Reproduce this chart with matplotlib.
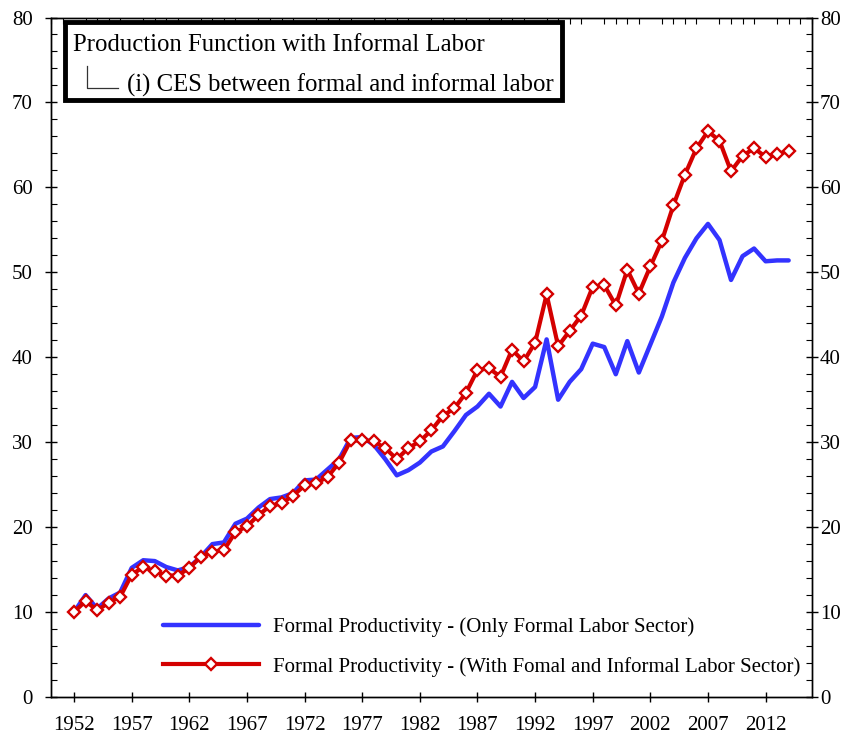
import numpy as np
import matplotlib.pyplot as plt
from matplotlib.ticker import MultipleLocator
from matplotlib.patches import Rectangle

# anos e series
years = np.arange(1952, 2015)

only_formal = [10.0, 12.0, 10.4, 11.6, 12.3, 15.2, 16.1, 16.0, 15.3, 14.9,
               15.3, 16.5, 18.0, 18.2, 20.4, 21.0, 22.3, 23.3, 23.5, 24.0,
               25.5, 25.6, 26.8, 28.0, 30.5, 30.6, 29.7, 28.0, 26.1, 26.7,
               27.6, 28.9, 29.5, 31.3, 33.2, 34.2, 35.7, 34.2, 37.1, 35.2,
               36.5, 42.1, 35.0, 37.1, 38.6, 41.6, 41.2, 38.0, 41.9, 38.2,
               41.5, 44.8, 48.8, 51.7, 54.0, 55.7, 53.8, 49.1, 51.9, 52.8,
               51.3, 51.4, 51.4]

with_informal = [10.0, 11.3, 10.2, 11.1, 11.8, 14.4, 15.3, 14.8, 14.3, 14.3,
                 15.2, 16.5, 17.1, 17.3, 19.4, 20.1, 21.4, 22.5, 22.8, 23.7,
                 24.9, 25.2, 25.9, 27.6, 30.2, 30.2, 30.1, 29.3, 28.0, 29.3,
                 30.1, 31.4, 33.1, 34.0, 35.8, 38.5, 38.7, 37.7, 40.9, 39.5,
                 41.7, 47.4, 41.3, 43.1, 44.9, 48.3, 48.5, 46.1, 50.3, 47.5,
                 50.7, 53.7, 57.9, 61.5, 64.6, 66.6, 65.5, 61.9, 63.7, 64.6,
                 63.6, 63.9, 64.3]

label_blue = 'Formal Productivity - (Only Formal Labor Sector)'
label_red = 'Formal Productivity - (With Fomal and Informal Labor Sector)'
title_main = 'Production Function with Informal Labor'
title_sub = '(i) CES between formal and informal labor'

plt.rcParams['font.family'] = ['Liberation Serif', 'DejaVu Sans']

fig = plt.figure(figsize=(8.52, 7.48), dpi=100)
ax = fig.add_axes([0.0599, 0.0682, 0.8928, 0.9084])

ax.plot(years, only_formal, color='#3333ff', lw=3.2, label=label_blue,
        solid_capstyle='round', zorder=3)
ax.plot(years, with_informal, color='#d40000', lw=3.0, marker='D', ms=5.8,
        mfc='white', mec='#d40000', mew=1.7, label=label_red, zorder=4)

ax.set_xlim(1950, 2016)
ax.set_ylim(0, 80)

ax.set_xticks(np.arange(1952, 2015, 5))
ax.yaxis.set_major_locator(MultipleLocator(10))
ax.yaxis.set_minor_locator(MultipleLocator(2))
ax.xaxis.set_minor_locator(MultipleLocator(1))

ax.tick_params(axis='x', which='major', direction='inout', length=7, width=1,
               labelsize=15, pad=10, top=False)
ax.tick_params(axis='x', which='minor', direction='in', length=4, width=0.8,
               bottom=False, top=True)
ax.tick_params(axis='y', which='major', direction='inout', length=8, width=1,
               labelsize=15, left=True, right=False, pad=9)
ax.tick_params(axis='y', which='minor', direction='in', length=4, width=0.8,
               left=True, right=False)

# eixo direito com os mesmos valores
ax2 = ax.twinx()
ax2.set_ylim(0, 80)
ax2.yaxis.set_major_locator(MultipleLocator(10))
ax2.yaxis.set_minor_locator(MultipleLocator(2))
ax2.tick_params(axis='y', which='major', direction='inout', length=8, width=1,
                labelsize=15, pad=2)
ax2.tick_params(axis='y', which='minor', direction='in', length=4, width=0.8)

for a in (ax, ax2):
    for sp in a.spines.values():
        sp.set_linewidth(1.0)

# caixa do titulo (coordenadas do eixo)
ax.add_patch(Rectangle((0.0184, 0.8786), 0.6533, 0.1148, transform=ax.transAxes,
                       fc='white', ec='black', lw=3.5, zorder=5))
ax.text(0.0289, 0.9595, title_main, transform=ax.transAxes, fontsize=17.8,
        va='center', ha='left', zorder=6)
ax.plot([0.0473, 0.0473, 0.0881], [0.9286, 0.8962, 0.8962], color='#333333',
        lw=0.9, transform=ax.transAxes, zorder=6)
ax.text(0.0999, 0.9005, title_sub, transform=ax.transAxes, fontsize=17.8,
        va='center', ha='left', zorder=6)

leg = fig.legend(loc='upper left', bbox_to_anchor=(0.191, 0.175),
                 frameon=False, fontsize=15, handlelength=4.6,
                 handletextpad=0.7, labelspacing=0.95, borderpad=0,
                 borderaxespad=0, numpoints=1)

fig.savefig('out.png', dpi=100)
